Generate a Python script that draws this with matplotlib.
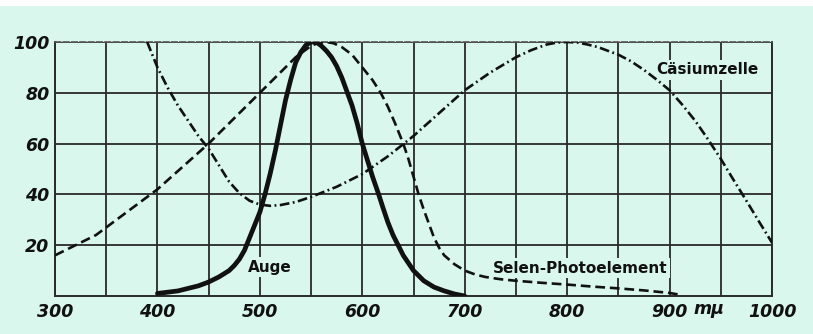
import matplotlib
matplotlib.use("Agg")
from matplotlib import pyplot as plt
from matplotlib.patches import Rectangle

plt.rcParams['lines.scale_dashes'] = False

# Auge (eye sensitivity)
auge_x = [400, 410, 420, 430, 440, 450, 460, 470, 475, 480, 485, 490, 495, 500, 505, 510, 515,
          520, 525, 530, 535, 540, 545, 550, 555, 560, 565, 570, 575, 580, 585, 590, 595, 600,
          605, 610, 616, 620, 625, 630, 635, 640, 645, 650, 655, 660, 670, 680, 690, 700]
auge_y = [1, 1.5, 2, 3, 4, 5.5, 7.5, 10, 12, 14.5, 18, 23, 28, 33, 40, 48, 57,
          67, 77, 85, 92, 96, 98.8, 100, 100, 98.5, 96.5, 94, 90.5, 86, 80.5, 75, 68, 60,
          53.5, 47, 40, 35, 29, 24, 20, 16, 13, 10, 8, 6, 3.5, 2, 0.8, 0]

# Selen-Photoelement
selen_x = [300, 320, 340, 360, 380, 400, 425, 450, 475, 500, 520, 535, 550, 557, 565, 572, 580,
           590, 600, 610, 618, 625, 632, 640, 645, 650, 655, 660, 665, 670, 675, 680, 690, 700,
           710, 720, 735, 750, 775, 800, 825, 850, 875, 900, 910]
selen_y = [16, 20, 24, 30, 36, 42, 51, 60, 70, 80, 88, 94, 98.5, 99.6, 100, 99.5, 98,
           95, 90, 85, 80, 74.5, 68, 60, 54, 47, 40, 34, 28.5, 23, 19, 16, 12.5, 10,
           8.5, 7.5, 6.6, 6, 5.2, 4.5, 3.7, 3, 2.2, 1.2, 0.5]

# Caesium cell
cs_x = [390, 395, 400, 405, 410, 420, 430, 440, 450, 460, 470, 480, 490, 500, 510, 520, 535,
        550, 575, 600, 625, 650, 675, 700, 725, 750, 765, 780, 790, 800, 810, 820, 830, 840,
        850, 862, 875, 888, 900, 912, 925, 937, 950, 962, 975, 987, 1000]
cs_y = [100, 95, 90, 86, 82, 75, 69, 63, 58, 51.5, 45, 40.5, 37.5, 36, 35.5, 35.8, 37,
        39, 43, 48, 55, 63, 72, 81, 88, 94, 96.8, 99, 99.8, 100, 99.8, 99, 98, 96.5,
        95, 92.5, 89, 85, 81, 75.5, 69, 62, 54, 46, 37.5, 29.5, 21]

xticks = [300, 400, 500, 600, 700, 800, 900, 1000]
yticks = [20, 40, 60, 80, 100]

bg = '#d9f7ec'
ink = '#111111'

fig = plt.figure(figsize=(8.13, 3.34), dpi=100, facecolor=bg)
ax = fig.add_axes([55/813, 1 - 296/334, (772-55)/813, (296-42)/334])
ax.set_facecolor(bg)
fig.patches.append(Rectangle((0, 1 - 6/334), 1, 6/334, transform=fig.transFigure,
                             facecolor='white', edgecolor='none', zorder=-5))

ax.set_xlim(300, 1000)
ax.set_ylim(0, 100)

# grid every 50 nm, every 20 %
ax.set_xticks(xticks)
ax.set_xticks([350, 450, 550, 650, 750, 850, 950], minor=True)
ax.set_yticks(yticks)
ax.grid(True, which='both', color='#2a2a2a', lw=1.3, zorder=1)
ax.tick_params(which='both', length=0)
ax.tick_params(axis='x', pad=5)
ax.tick_params(axis='y', pad=4)
for lab in ax.get_xticklabels() + ax.get_yticklabels():
    lab.set_fontsize(12.5)
    lab.set_fontweight('bold')
    lab.set_fontstyle('italic')
    lab.set_color(ink)

for side in ['left', 'bottom', 'right']:
    ax.spines[side].set_color('#2a2a2a')
    ax.spines[side].set_linewidth(1.4)
ax.spines['top'].set_color('#555555')
ax.spines['top'].set_linewidth(1.2)
ax.spines['top'].set_linestyle((0, (4, 2)))

ax.plot(auge_x, auge_y, color=ink, lw=3.4, solid_capstyle='round', solid_joinstyle='round', zorder=4)
ax.plot(selen_x, selen_y, color=ink, lw=1.9, dashes=(7, 3.5), zorder=4)
ax.plot(cs_x, cs_y, color=ink, lw=1.9, dashes=(7, 2.5, 1.3, 2.5), zorder=4)

# labels sit on a patch of background, cutting the grid lines
lab_kw = dict(fontsize=11, fontweight='bold', color=ink, ha='center', va='center', zorder=3,
              bbox=dict(facecolor=bg, edgecolor='none', pad=1.5))
ax.text(510, 11.4, 'Auge', **lab_kw)
ax.text(813, 11, 'Selen-Photoelement', **lab_kw)
ax.text(937, 89, 'Cäsiumzelle', **lab_kw)
ax.text(938, -5, 'mμ', fontsize=12.5, fontweight='bold', fontstyle='italic', color=ink,
        ha='center', va='center', clip_on=False)

fig.savefig('out.png', dpi=100, facecolor=bg)
